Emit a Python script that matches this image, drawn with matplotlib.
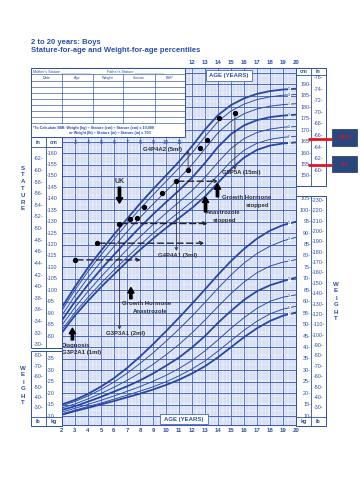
import numpy as np
import matplotlib
matplotlib.use("Agg")
import matplotlib.pyplot as plt
from matplotlib.transforms import blended_transform_factory as blend
from matplotlib.patches import Rectangle

plt.rcParams['font.family'] = ['Liberation Sans', 'DejaVu Sans']

# ---------------- data ----------------
ages = [2, 3, 4, 5, 6, 7, 8, 9, 10, 11, 12, 13, 14, 15, 16, 17, 18, 19, 20]
percentiles = [5, 10, 25, 50, 75, 90, 95]

stature_p5  = [81.5, 89.0, 95.4, 101.4, 107.0, 112.5, 117.7, 122.6, 127.2, 131.6, 136.0, 141.0, 147.0, 153.0, 158.0, 161.4, 163.3, 164.2, 164.7]
stature_p10 = [82.8, 90.3, 96.9, 103.1, 108.8, 114.4, 119.8, 124.9, 129.6, 134.2, 138.8, 144.1, 150.3, 156.4, 161.2, 164.3, 166.0, 166.9, 167.3]
stature_p25 = [84.8, 92.5, 99.5, 105.9, 111.9, 117.8, 123.4, 128.7, 133.7, 138.6, 143.6, 149.4, 156.0, 162.0, 166.3, 169.0, 170.5, 171.3, 171.6]
stature_p50 = [86.9, 95.1, 102.5, 109.2, 115.5, 121.7, 127.6, 133.2, 138.5, 143.7, 149.2, 155.7, 162.7, 168.3, 172.1, 174.4, 175.7, 176.4, 176.8]
stature_p75 = [89.1, 97.7, 105.5, 112.5, 119.1, 125.6, 131.8, 137.7, 143.3, 148.9, 154.9, 161.9, 168.9, 173.9, 177.2, 179.3, 180.5, 181.2, 181.6]
stature_p90 = [91.2, 100.1, 108.2, 115.5, 122.4, 129.1, 135.6, 141.7, 147.6, 153.5, 160.0, 167.2, 173.8, 178.4, 181.4, 183.4, 184.6, 185.3, 185.6]
stature_p95 = [92.6, 101.6, 109.9, 117.3, 124.4, 131.2, 137.9, 144.2, 150.2, 156.3, 163.0, 170.3, 176.6, 181.0, 183.9, 185.9, 187.1, 187.8, 188.1]

weight_p5  = [10.6, 12.2, 13.6, 15.1, 16.6, 18.2, 19.8, 21.6, 23.6, 25.9, 28.6, 31.8, 35.7, 40.1, 44.5, 48.4, 51.6, 53.9, 55.3]
weight_p10 = [11.0, 12.6, 14.2, 15.7, 17.4, 19.1, 20.9, 22.8, 25.0, 27.6, 30.6, 34.1, 38.4, 43.0, 47.5, 51.5, 54.7, 56.8, 58.0]
weight_p25 = [11.8, 13.4, 15.1, 16.9, 18.8, 20.8, 22.9, 25.2, 27.8, 30.8, 34.3, 38.5, 43.3, 48.4, 53.0, 57.1, 60.2, 62.0, 63.0]
weight_p50 = [12.7, 14.3, 16.3, 18.4, 20.7, 23.0, 25.6, 28.6, 32.0, 35.6, 40.0, 45.0, 50.8, 56.0, 60.8, 64.6, 67.2, 69.0, 70.6]
weight_p75 = [13.6, 15.3, 17.5, 19.9, 22.6, 25.6, 28.9, 32.6, 36.8, 41.3, 46.4, 52.0, 57.9, 63.6, 68.6, 72.7, 75.6, 77.3, 78.4]
weight_p90 = [14.5, 16.4, 18.8, 21.6, 24.9, 28.7, 33.0, 37.6, 42.7, 48.0, 53.7, 59.7, 65.9, 71.7, 76.9, 81.1, 84.3, 86.6, 88.2]
weight_p95 = [15.1, 17.1, 19.7, 22.9, 26.6, 31.0, 36.0, 41.4, 47.1, 53.0, 59.1, 65.4, 71.8, 77.8, 83.1, 87.6, 91.1, 93.5, 95.0]

stature_curves = [stature_p5, stature_p10, stature_p25, stature_p50, stature_p75, stature_p90, stature_p95]
weight_curves = [weight_p5, weight_p10, weight_p25, weight_p50, weight_p75, weight_p90, weight_p95]

visit_ages    = [3.0, 4.7, 6.42, 7.25, 7.75, 8.3, 9.7, 10.75, 11.7, 12.65, 13.15, 14.1, 15.3]
visit_stature = [113.3, 120.8, 129.2, 131.1, 131.5, 136.3, 142.4, 147.7, 152.4, 162.3, 165.7, 175.4, 177.6]

# dashed horizontal projections
dash_start = [3.0, 4.7, 6.42, 10.75]
dash_end   = [8.05, 12.95, 13.2, 14.0]
dash_level = [113.3, 120.6, 129.2, 147.7]

# thin vertical arrows (from, to)
vline_age  = [6.42, 10.8, 15.3, 11.7]
vline_from = [129.2, 147.7, 177.6, 152.4]
vline_to   = [82.8, 117.2, 152.6, 161.0]

mph_cm = 166.0
th_cm = 155.0

# ---------------- figure ----------------
W, H = 360, 480
fig = plt.figure(figsize=(3.6, 4.8), dpi=100)
fig.patch.set_facecolor('white')

def frect(x0, y0, x1, y1):
    return [x0 / W, 1 - y1 / H, (x1 - x0) / W, (y1 - y0) / H]

BLUE = '#2c4ea6'
CURVE = '#2747a3'
GRIDD = '#4a68c2'
GRIDL = '#bac8ec'
TXT = '#2f2f2f'
WOFF = 35.0   # weight (kg) drawn at kg + WOFF on the shared vertical scale

ax = fig.add_axes(frect(62, 68, 296, 425), zorder=1)
ax.set_xlim(2, 20)
ax.set_ylim(41.1, 197.2)
ax.set_facecolor('#eef2fb')
ax.set_xticks(np.arange(2, 21, 1))
ax.set_xticks(np.arange(2, 20.01, 0.25), minor=True)
ax.set_yticks(np.arange(45, 197, 5))
ax.set_yticks(np.arange(42, 198, 1), minor=True)
ax.tick_params(which='both', length=0, labelbottom=False, labelleft=False)
ax.grid(which='major', color=GRIDD, lw=0.7)
ax.grid(which='minor', color=GRIDL, lw=0.35)
ax.set_axisbelow(True)
for s in ax.spines.values():
    s.set_color('#3a5ab5')
    s.set_linewidth(0.8)

for p, vals in zip(percentiles, stature_curves):
    lw = 1.3 if p in (5, 50, 95) else 0.65
    ax.plot(ages, vals, color=CURVE, lw=lw, zorder=2)
    yv = np.interp(19.5, ages, vals)
    ax.text(19.5, yv, str(p), fontsize=2.2, color=CURVE, ha='center', va='center', zorder=3,
            bbox=dict(fc='white', ec='none', pad=0.2))
for p, vals in zip(percentiles, weight_curves):
    lw = 1.3 if p in (5, 50, 95) else 0.65
    wv = np.array(vals) + WOFF
    ax.plot(ages, wv, color=CURVE, lw=lw, zorder=2)
    yv = np.interp(19.5, ages, wv)
    ax.text(19.5, yv, str(p), fontsize=2.2, color=CURVE, ha='center', va='center', zorder=3,
            bbox=dict(fc='white', ec='none', pad=0.2))

# patient measurements
ax.plot(visit_ages, visit_stature, 'o', ms=2.8, color='black', ls='none', zorder=6)

for a0, a1, lv in zip(dash_start, dash_end, dash_level):
    ax.annotate('', xy=(a1, lv), xytext=(a0 + 0.15, lv),
                arrowprops=dict(arrowstyle='->', linestyle=(0, (4.5, 2.5)), lw=1.0, color='#222222',
                                shrinkA=0, shrinkB=0, mutation_scale=6), zorder=5)

for a, y0, y1 in zip(vline_age, vline_from, vline_to):
    ax.annotate('', xy=(a, y1), xytext=(a, y0),
                arrowprops=dict(arrowstyle='->', lw=0.6, color='#333333', shrinkA=1.5, shrinkB=0,
                                mutation_scale=5), zorder=5)

def thick_arrow(a, y_tail, y_tip):
    ax.annotate('', xy=(a, y_tip), xytext=(a, y_tail),
                arrowprops=dict(arrowstyle='simple,head_length=0.65,head_width=0.75,tail_width=0.28',
                                color='black', shrinkA=0, shrinkB=0, mutation_scale=6), zorder=6)

thick_arrow(6.42, 145.1, 138.1)   # UK
thick_arrow(2.8, 78.3, 83.4)      # diagnosis
thick_arrow(7.3, 96.3, 101.2)     # GH + anastrozole
thick_arrow(13.04, 134.3, 140.8)  # anastrozole stopped
thick_arrow(13.96, 140.9, 146.6)  # GH stopped

AK = dict(fontsize=4.3, color=TXT, fontweight='bold', va='center', zorder=7)
ax.text(6.42, 147.6, 'UK', ha='center', **dict(AK, fontsize=5.0))
ax.text(1.98, 76.0, 'Diagnosis', ha='left', **AK)
ax.text(1.98, 72.9, 'G3P2A1 (1ml)', ha='left', **AK)
ax.text(6.58, 94.4, 'Growth Hormone', ha='left', **AK)
ax.text(7.45, 90.9, 'Anastrozole', ha='left', **AK)
ax.text(5.35, 80.9, 'G3P3A1 (2ml)', ha='left', **AK)
ax.text(9.35, 115.0, 'G4P4A1 (3ml)', ha='left', **AK)
ax.text(8.25, 161.4, 'G4P4A2 (5ml)', ha='left', **AK)
ax.text(14.27, 151.3, 'G5P5A (15ml)', ha='left', **AK)
ax.text(13.04, 133.8, 'Anastrozole', ha='left', **AK)
ax.text(13.6, 130.7, 'stopped', ha='left', **AK)
ax.text(14.27, 140.6, 'Growth Hormone', ha='left', **AK)
ax.text(16.1, 137.2, 'stopped', ha='left', **AK)

# ---------------- overlay in pixel coordinates ----------------
ov = fig.add_axes([0, 0, 1, 1], zorder=3)
ov.set_xlim(0, W)
ov.set_ylim(H, 0)
ov.axis('off')
ov.patch.set_alpha(0)
tXY = blend(ov.transData, ax.transData)   # x in pixels, y on chart scale
tAX = blend(ax.transData, ov.transData)   # x in age, y in pixels

ov.text(31, 42, '2 to 20 years: Boys', fontsize=5.5, fontweight='bold', color=BLUE, va='center')
ov.text(31, 50.5, 'Stature-for-age and Weight-for-age percentiles', fontsize=5.5,
        fontweight='bold', color=BLUE, va='center')

# record table
ov.add_patch(Rectangle((31, 68), 154, 69, fc='white', ec=BLUE, lw=0.7))
for y in [74, 81, 87, 93, 99, 105, 111, 117, 123]:
    ov.plot([31, 185], [y, y], color=BLUE, lw=0.45)
for x in [62, 93, 123, 155]:
    ov.plot([x, x], [74, 123], color=BLUE, lw=0.45)
TS = dict(fontsize=2.7, color=BLUE, va='center')
ov.text(33, 71, "Mother's Stature ______________", ha='left', **TS)
ov.text(107, 71, "Father's Stature ______________", ha='left', **TS)
for cx, s in zip([46.5, 77.5, 108, 139, 170], ['Date', 'Age', 'Weight', 'Stature', 'BMI*']):
    ov.text(cx, 77.6, s, ha='center', **TS)
ov.text(33, 127.5, '*To Calculate BMI: Weight (kg) ÷ Stature (cm) ÷ Stature (cm) x 10,000',
        ha='left', fontweight='bold', **TS)
ov.text(110, 133, 'or Weight (lb) ÷ Stature (in) ÷ Stature (in) x 703', ha='center',
        fontweight='bold', **TS)

# side columns
def column_box(x0, y0, x1, y1, xdiv, lines):
    ov.add_patch(Rectangle((x0, y0), x1 - x0, y1 - y0, fc='white', ec=BLUE, lw=0.7))
    ov.plot([xdiv, xdiv], [y0, y1], color=BLUE, lw=0.6)
    for y in lines:
        ov.plot([x0, x1], [y, y], color=BLUE, lw=0.6)

column_box(31, 137, 62, 348, 46, [147])
column_box(31, 351, 62, 426, 46, [417])
column_box(296, 68, 326, 186, 311, [75])
column_box(296, 196, 326, 426, 311, [417])

LS = dict(fontsize=3.9, color=BLUE, va='center')
HS = dict(fontsize=3.9, color=BLUE, va='center', ha='center', fontweight='bold')
ov.text(38.5, 142, 'in', **HS)
ov.text(54, 142, 'cm', **HS)
ov.text(303.5, 71.5, 'cm', **HS)
ov.text(318.5, 71.5, 'in', **HS)
ov.text(38.5, 421.5, 'lb', **HS)
ov.text(54, 421.5, 'kg', **HS)
ov.text(303.5, 421.5, 'kg', **HS)
ov.text(318.5, 421.5, 'lb', **HS)

left_cm = list(range(80, 161, 5))
left_in = list(range(30, 63, 2))
right_cm = list(range(150, 191, 5))
right_in = list(range(60, 77, 2))
left_kg = list(range(10, 36, 5))
left_lb = list(range(30, 81, 10))
right_kg = list(range(10, 106, 5))
right_lb = list(range(30, 231, 10))

for v in left_cm:
    ov.text(46.5, v, f'-{v}', ha='left', transform=tXY, **LS)
for v in left_in:
    ov.text(38.5, v * 2.54, f'-{v}-', ha='center', transform=tXY, **LS)
for v in right_cm:
    ov.text(311, v, f'{v}-', ha='right', transform=tXY, **LS)
for v in right_in:
    ov.text(318.5, v * 2.54, f'-{v}-', ha='center', transform=tXY, **LS)
for v in left_kg:
    ov.text(46.5, v + WOFF, f'-{v}', ha='left', transform=tXY, **LS)
for v in left_lb:
    ov.text(38.5, v / 2.2046 + WOFF, f'-{v}-', ha='center', transform=tXY, **LS)
for v in right_kg:
    ov.text(311, v + WOFF, f'{v}-', ha='right', transform=tXY, **LS)
for v in right_lb:
    ov.text(318.5, v / 2.2046 + WOFF, f'-{v}-', ha='center', transform=tXY, **LS)

# age labels
AS = dict(fontsize=4.3, color=BLUE, va='center', ha='center', fontweight='bold')
for a in range(12, 21):
    ov.text(a, 63, str(a), transform=tAX, **AS)
for a in range(2, 21):
    ov.text(a, 431, str(a), transform=tAX, **AS)
for a in range(3, 12):
    ov.text(a, 142.5, str(a), transform=tAX, **dict(AS, fontsize=3.9, fontweight='normal'))

ov.add_patch(Rectangle((206, 70), 46, 11, fc='white', ec=BLUE, lw=0.5))
ov.text(229, 75.5, 'AGE (YEARS)', **dict(AS, fontsize=4.3))
ov.add_patch(Rectangle((160, 414), 48, 10, fc='white', ec=BLUE, lw=0.5))
ov.text(184, 419, 'AGE (YEARS)', **dict(AS, fontsize=4.3))

# vertical axis titles
VS = dict(fontsize=4.4, color=BLUE, fontweight='bold', ha='center', va='center')
for i, ch in enumerate('STATURE'):
    ov.text(23, 168 + i * 6.8, ch, **VS)
for i, ch in enumerate('WEIGHT'):
    ov.text(23, 368 + i * 7.0, ch, **VS)
for i, ch in enumerate('WEIGHT'):
    ov.text(336, 284 + i * 7.0, ch, **VS)

# MPH / TH markers
for val, label, (by0, by1) in [(mph_cm, 'MPH', (129, 146)), (th_cm, 'TH', (156, 172))]:
    ov.plot([308, 332], [val, val], color='#e3141c', lw=2.0, transform=tXY, solid_capstyle='butt')
    ov.add_patch(Rectangle((332, by0), 25, by1 - by0, fc='#28477c', ec='#1c3460', lw=0.5))
    ov.text(344.5, (by0 + by1) / 2, label, fontsize=4.6, color='#e3141c', ha='center', va='center')

fig.savefig('out.png', dpi=100, facecolor='white')
